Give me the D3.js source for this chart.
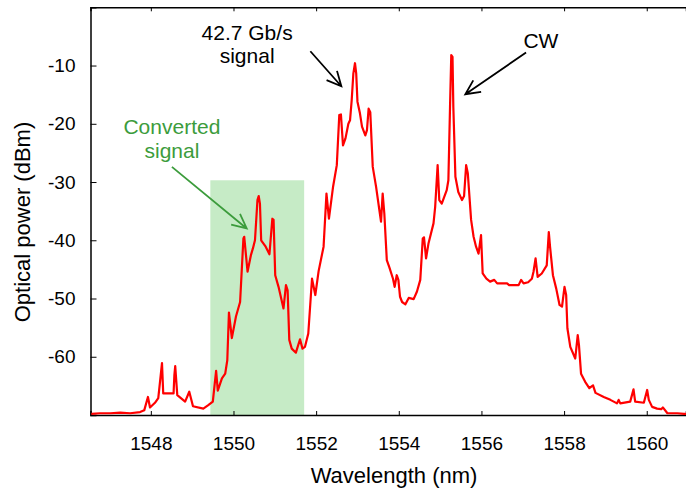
<!DOCTYPE html>
<html>
<head>
<meta charset="utf-8">
<script src="https://cdn.jsdelivr.net/npm/d3@7"></script>
<style>
  body { margin: 0; background: #fff; }
  text { font-family: "Liberation Sans", Arial, sans-serif; }
</style>
</head>
<body>
<svg id="chart" width="686" height="488"></svg>
<script>
// spectrum trace (nm, dBm)
const wavelength = [
  1546.56, 1546.77, 1547.02, 1547.26, 1547.50, 1547.74, 1547.84, 1547.93, 1547.98, 1548.10,
  1548.18, 1548.24, 1548.27, 1548.30, 1548.55, 1548.57, 1548.59, 1548.64, 1548.83, 1548.93,
  1549.02, 1549.27, 1549.39, 1549.50, 1549.58, 1549.62, 1549.72, 1549.80, 1549.85, 1549.89,
  1549.96, 1550.06, 1550.16, 1550.24, 1550.26, 1550.34, 1550.42, 1550.47, 1550.52, 1550.58,
  1550.61, 1550.64, 1550.67, 1550.77, 1550.87, 1550.94, 1550.97, 1551.01, 1551.09, 1551.21,
  1551.27, 1551.31, 1551.35, 1551.41, 1551.51, 1551.61, 1551.67, 1551.73, 1551.81, 1551.90,
  1551.98, 1552.06, 1552.18, 1552.25, 1552.31, 1552.41, 1552.50, 1552.56, 1552.60, 1552.65,
  1552.71, 1552.78, 1552.82, 1552.86, 1552.90, 1552.94, 1552.97, 1553.00, 1553.06, 1553.11,
  1553.19, 1553.23, 1553.27, 1553.31, 1553.37, 1553.45, 1553.53, 1553.57, 1553.61, 1553.65,
  1553.71, 1553.77, 1553.86, 1553.90, 1553.95, 1553.99, 1554.03, 1554.08, 1554.16, 1554.24,
  1554.36, 1554.44, 1554.52, 1554.58, 1554.61, 1554.66, 1554.72, 1554.84, 1554.88, 1554.94,
  1554.98, 1555.04, 1555.16, 1555.20, 1555.24, 1555.27, 1555.30, 1555.32, 1555.37, 1555.44,
  1555.53, 1555.58, 1555.63, 1555.67, 1555.75, 1555.81, 1555.87, 1555.93, 1555.99, 1556.03,
  1556.12, 1556.21, 1556.31, 1556.38, 1556.62, 1556.67, 1556.90, 1556.96, 1557.02, 1557.13,
  1557.22, 1557.26, 1557.31, 1557.36, 1557.46, 1557.58, 1557.63, 1557.66, 1557.73, 1557.81,
  1557.89, 1557.95, 1558.01, 1558.05, 1558.08, 1558.15, 1558.27, 1558.33, 1558.36, 1558.41,
  1558.51, 1558.61, 1558.70, 1558.76, 1558.96, 1559.12, 1559.28, 1559.32, 1559.36, 1559.60,
  1559.68, 1559.72, 1559.93, 1560.01, 1560.05, 1560.13, 1560.25, 1560.35, 1560.39, 1560.50,
  1560.58, 1560.74, 1560.90, 1560.96
];
const power = [
  -69.8, -69.7, -69.7, -69.6, -69.7, -69.5, -69.2, -66.9, -68.7, -67.9,
  -67.1, -63.1, -61.1, -66.3, -66.3, -63.1, -61.6, -66.6, -67.7, -66.0,
  -68.5, -68.9, -68.3, -67.7, -62.4, -65.8, -63.7, -62.9, -60.6, -52.4,
  -56.8, -53.1, -50.6, -39.7, -39.4, -45.4, -42.6, -41.4, -40.0, -33.1,
  -32.4, -33.7, -40.0, -41.0, -42.4, -36.3, -36.5, -46.0, -48.0, -51.7,
  -47.7, -48.6, -57.1, -58.6, -59.3, -57.0, -58.6, -58.3, -56.0, -46.6,
  -49.4, -45.3, -41.1, -32.0, -36.3, -30.8, -27.1, -18.5, -18.4, -23.7,
  -22.5, -20.0, -19.4, -16.0, -11.4, -9.6, -11.4, -16.2, -18.2, -20.5,
  -22.0, -21.1, -17.4, -18.0, -27.4, -30.8, -34.8, -36.8, -32.0, -35.4,
  -43.4, -44.6, -46.6, -48.0, -46.0, -46.8, -49.7, -50.6, -51.0, -49.9,
  -50.1, -48.8, -46.8, -39.7, -39.5, -43.1, -40.5, -37.1, -34.3, -27.1,
  -33.1, -33.7, -31.4, -29.7, -17.1, -8.2, -8.5, -17.1, -29.1, -31.7,
  -33.1, -32.4, -27.1, -28.5, -36.5, -39.4, -41.1, -42.3, -39.1, -45.7,
  -46.6, -47.1, -46.8, -47.4, -47.4, -47.7, -47.7, -46.8, -47.4, -47.2,
  -46.6, -45.4, -43.1, -46.3, -45.7, -44.3, -38.6, -41.1, -46.0, -48.3,
  -51.1, -51.4, -48.0, -49.4, -55.1, -58.3, -60.3, -56.3, -58.0, -62.9,
  -64.3, -65.4, -64.9, -66.2, -66.9, -67.4, -68.0, -67.4, -68.0, -67.7,
  -65.6, -67.7, -67.9, -65.7, -67.4, -68.6, -68.9, -69.0, -68.7, -69.7,
  -69.7, -69.7, -69.8, -69.8
];

const xTicks = [1548, 1550, 1552, 1554, 1556, 1558, 1560];
const yTicks = [-60, -50, -40, -30, -20, -10];

// shaded band around the converted signal
const bandRange = [1549.44, 1551.71];
const bandTop = -29.7;

const width = 686, height = 488;
const margin = {top: 7.3, right: 0, bottom: 73, left: 90.5};

const svg = d3.select('#chart');

const x = d3.scaleLinear()
    .domain([1546.54, 1560.95])
    .range([margin.left, width - margin.right]);

const y = d3.scaleLinear()
    .domain([-70, 0])
    .range([height - margin.bottom, margin.top]);

svg.append('defs').append('clipPath')
    .attr('id', 'plot-clip')
  .append('rect')
    .attr('x', margin.left)
    .attr('y', margin.top)
    .attr('width', width - margin.left - margin.right)
    .attr('height', y(-70) - margin.top);

// green band
svg.append('rect')
    .attr('x', x(bandRange[0]))
    .attr('y', y(bandTop))
    .attr('width', x(bandRange[1]) - x(bandRange[0]))
    .attr('height', y(-70) - y(bandTop))
    .attr('fill', '#c6ebc6');

// axes (ticks point inward, gnuplot style)
const fmt = d => d3.format('d')(d).replace('−', '-');

svg.append('g')
    .attr('transform', `translate(0,${y(-70)})`)
    .call(d3.axisBottom(x).tickValues(xTicks).tickSize(-4).tickPadding(22).tickFormat(fmt))
    .call(g => g.selectAll('text').attr('font-size', 19).attr('fill', '#000'));

svg.append('g')
    .attr('transform', `translate(0,${margin.top})`)
    .call(d3.axisTop(x).tickValues(xTicks).tickSize(-4).tickFormat(''));

svg.append('g')
    .attr('transform', `translate(${margin.left},0)`)
    .call(d3.axisLeft(y).tickValues(yTicks).tickSize(-6).tickPadding(15).tickFormat(fmt))
    .call(g => g.selectAll('text').attr('font-size', 19).attr('fill', '#000'));

svg.selectAll('.domain').attr('stroke', '#000').attr('stroke-width', 1.5);
svg.selectAll('.tick line').attr('stroke', '#000').attr('stroke-width', 1);

// spectrum
const points = wavelength.map((w, i) => [w, power[i]]);
svg.append('path')
    .datum(points)
    .attr('clip-path', 'url(#plot-clip)')
    .attr('fill', 'none')
    .attr('stroke', '#ff0000')
    .attr('stroke-width', 2.2)
    .attr('stroke-linejoin', 'round')
    .attr('d', d3.line().x(d => x(d[0])).y(d => y(d[1])));

// axis titles
svg.append('text')
    .attr('x', 394)
    .attr('y', 483)
    .attr('text-anchor', 'middle')
    .attr('font-size', 22)
    .text('Wavelength (nm)');

svg.append('text')
    .attr('transform', 'translate(30,222) rotate(-90)')
    .attr('text-anchor', 'middle')
    .attr('font-size', 22)
    .text('Optical power (dBm)');

// annotations: label lines and arrows in data units
const labels = [
  {lines: ['42.7 Gb/s', 'signal'], at: [1550.33, -5.54], color: '#000'},
  {lines: ['CW'], at: [1557.44, -6.91], color: '#000'},
  {lines: ['Converted', 'signal'], at: [1548.51, -21.79], color: '#3c9c3c'}
];
const arrows = [
  {from: [1551.86, -7.55], to: [1552.61, -13.56], color: '#000'},
  {from: [1557.08, -7.77], to: [1555.61, -14.93], color: '#000'},
  {from: [1548.51, -27.40], to: [1550.32, -37.97], color: '#3c9c3c'}
];

labels.forEach(l => {
  const t = svg.append('text')
      .attr('x', x(l.at[0]))
      .attr('y', y(l.at[1]))
      .attr('text-anchor', 'middle')
      .attr('font-size', 21)
      .attr('fill', l.color);
  l.lines.forEach((s, i) => {
    t.append('tspan')
        .attr('x', x(l.at[0]))
        .attr('dy', i === 0 ? 0 : 23.5)
        .text(s);
  });
});

arrows.forEach(a => {
  const x0 = x(a.from[0]), y0 = y(a.from[1]);
  const x1 = x(a.to[0]), y1 = y(a.to[1]);
  const ang = Math.atan2(y1 - y0, x1 - x0);
  const len = 16, spread = 0.45;
  const w1 = [x1 - len * Math.cos(ang - spread), y1 - len * Math.sin(ang - spread)];
  const w2 = [x1 - len * Math.cos(ang + spread), y1 - len * Math.sin(ang + spread)];
  svg.append('path')
      .attr('d', `M${x0},${y0}L${x1},${y1}M${w1[0]},${w1[1]}L${x1},${y1}L${w2[0]},${w2[1]}`)
      .attr('fill', 'none')
      .attr('stroke', a.color)
      .attr('stroke-width', 1.8);
});
</script>
</body>
</html>
